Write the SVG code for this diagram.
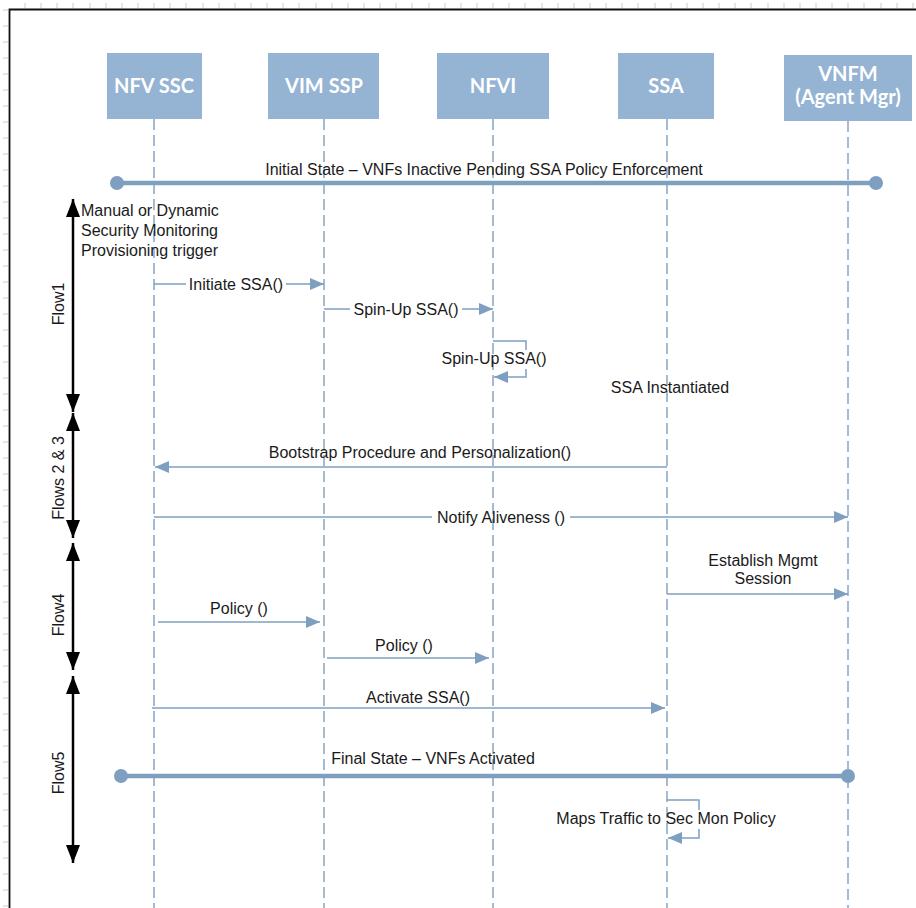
<svg xmlns="http://www.w3.org/2000/svg" width="916" height="908" viewBox="0 0 916 908">
<defs>
<style>
.box{fill:#95B4D4;}
.hdr{font-family:Lato,"Liberation Sans",sans-serif;font-weight:bold;font-size:20px;fill:#ffffff;text-anchor:middle;}
.life{stroke:#86A5C5;stroke-width:1.5;stroke-dasharray:11 5;fill:none;}
.msg{stroke:#7F9FC0;stroke-width:1.5;fill:none;}
.state{stroke:#7F9FC0;stroke-width:4.5;fill:none;}
.dot{fill:#7F9FC0;}
.t{font-family:"Liberation Sans",Arial,sans-serif;font-size:16px;fill:#1a1a1a;}
.c{text-anchor:middle;}
.flow{stroke:#000;stroke-width:2.5;fill:none;}
.tick{stroke:#cccccc;stroke-width:1;}
</style>
<marker id="ah" viewBox="0 0 14 12" refX="14" refY="6" markerWidth="14" markerHeight="12" markerUnits="userSpaceOnUse" orient="auto">
<path d="M0,0 L14,6 L0,12 Z" fill="#7F9FC0"/>
</marker>
<marker id="fa" viewBox="0 0 18 14" refX="18" refY="7" markerWidth="18" markerHeight="14" markerUnits="userSpaceOnUse" orient="auto">
<path d="M0,0 L18,7 L0,14 Z" fill="#000"/>
</marker>
</defs>
<rect width="916" height="908" fill="#ffffff"/>
<g id="ruler">
<path class="tick" d="M25,3V8 M41,3V8 M57,3V8 M73,3V8 M90,3V8 M106,3V8 M122,3V8 M138,3V8 M154,3V8 M170,3V8 M186,3V8 M203,3V8 M219,3V8 M235,3V8 M251,3V8 M267,3V8 M283,3V8 M299,3V8 M316,3V8 M332,3V8 M348,3V8 M364,3V8 M380,3V8 M396,3V8 M412,3V8 M429,3V8 M445,3V8 M461,3V8 M477,3V8 M493,3V8 M509,3V8 M525,3V8 M542,3V8 M558,3V8 M574,3V8 M590,3V8 M606,3V8 M622,3V8 M638,3V8 M655,3V8 M671,3V8 M687,3V8 M703,3V8 M719,3V8 M735,3V8 M751,3V8 M768,3V8 M784,3V8 M800,3V8 M816,3V8 M832,3V8 M848,3V8 M864,3V8 M881,3V8 M897,3V8 M913,3V8"/>
<path class="tick" d="M3,10H8 M3,26H8 M3,42H8 M3,58H8 M3,74H8 M3,90H8 M3,106H8 M3,122H8 M3,138H8 M3,154H8 M3,170H8 M3,186H8 M3,202H8 M3,218H8 M3,234H8 M3,250H8 M3,266H8 M3,282H8 M3,298H8 M3,314H8 M3,330H8 M3,346H8 M3,362H8 M3,378H8 M3,394H8 M3,410H8 M3,426H8 M3,442H8 M3,458H8 M3,474H8 M3,490H8 M3,506H8 M3,522H8 M3,538H8 M3,554H8 M3,570H8 M3,586H8 M3,602H8 M3,618H8 M3,634H8 M3,650H8 M3,666H8 M3,682H8 M3,698H8 M3,714H8 M3,730H8 M3,746H8 M3,762H8 M3,778H8 M3,794H8 M3,810H8 M3,826H8 M3,842H8 M3,858H8 M3,874H8 M3,890H8 M3,906H8"/>
<path d="M9.5,908 V9.5 H916" stroke="#111" stroke-width="1.8" fill="none"/>
</g>
<g id="connectors">
<line class="life" x1="154" y1="119" x2="154" y2="908"/>
<line class="life" x1="324" y1="119" x2="324" y2="908"/>
<line class="life" x1="493" y1="119" x2="493" y2="908"/>
<line class="life" x1="667" y1="119" x2="667" y2="908"/>
<line class="life" x1="848" y1="121" x2="848" y2="908"/>
<line class="state" x1="117" y1="183" x2="876" y2="183"/>
<circle class="dot" cx="117" cy="183" r="7"/>
<circle class="dot" cx="876" cy="183" r="7"/>
<line class="state" x1="121" y1="776" x2="848" y2="776"/>
<circle class="dot" cx="121" cy="776" r="7"/>
<circle class="dot" cx="848" cy="776" r="7"/>
<path class="msg" d="M154,284H186 M286,284H324" marker-end="url(#ah)"/>
<path class="msg" d="M324,309H350 M462,309H493" marker-end="url(#ah)"/>
<path class="msg" d="M493,341H526V350"/>
<path class="msg" d="M526,369V377H494" marker-end="url(#ah)"/>
<path class="msg" d="M667,467H155" marker-end="url(#ah)"/>
<path class="msg" d="M154,517H432 M570,517H848" marker-end="url(#ah)"/>
<path class="msg" d="M667,594H848" marker-end="url(#ah)"/>
<path class="msg" d="M158,622H320" marker-end="url(#ah)"/>
<path class="msg" d="M327,658H489" marker-end="url(#ah)"/>
<path class="msg" d="M152,708H665" marker-end="url(#ah)"/>
<path class="msg" d="M667,800H699V810"/>
<path class="msg" d="M699,829V838H668" marker-end="url(#ah)"/>
<line class="flow" x1="73" y1="230" x2="73" y2="199" marker-end="url(#fa)"/>
<line class="flow" x1="73" y1="230" x2="73" y2="412" marker-end="url(#fa)"/>
<line class="flow" x1="73" y1="460" x2="73" y2="413" marker-end="url(#fa)"/>
<line class="flow" x1="73" y1="460" x2="73" y2="538" marker-end="url(#fa)"/>
<line class="flow" x1="73" y1="600" x2="73" y2="543" marker-end="url(#fa)"/>
<line class="flow" x1="73" y1="600" x2="73" y2="670" marker-end="url(#fa)"/>
<line class="flow" x1="73" y1="760" x2="73" y2="676" marker-end="url(#fa)"/>
<line class="flow" x1="73" y1="760" x2="73" y2="863" marker-end="url(#fa)"/>
</g>
<g id="nfv-ssc"><rect class="box" x="107" y="53" width="95" height="66"/><text class="hdr" x="154" y="93">NFV SSC</text></g>
<g id="vim-ssp"><rect class="box" x="268" y="53" width="111" height="66"/><text class="hdr" x="324" y="93">VIM SSP</text></g>
<g id="nfvi"><rect class="box" x="437" y="53" width="112" height="66"/><text class="hdr" x="493" y="93">NFVI</text></g>
<g id="ssa"><rect class="box" x="618" y="53" width="96" height="66"/><text class="hdr" x="666" y="93">SSA</text></g>
<g id="vnfm"><rect class="box" x="784" y="55" width="128" height="66"/><text class="hdr" x="848" y="81">VNFM</text><text class="hdr" x="848" y="104">(Agent Mgr)</text></g>
<g id="labels">
<text class="t c" x="484" y="175">Initial State – VNFs Inactive Pending SSA Policy Enforcement</text>
<text class="t" x="81" y="216">Manual or Dynamic</text>
<text class="t" x="81" y="236">Security Monitoring</text>
<text class="t" x="81" y="256">Provisioning trigger</text>
<text class="t c" x="236" y="290">Initiate SSA()</text>
<text class="t c" x="406" y="315">Spin-Up SSA()</text>
<text class="t c" x="494" y="364">Spin-Up SSA()</text>
<text class="t c" x="670" y="393">SSA Instantiated</text>
<text class="t c" x="420" y="458">Bootstrap Procedure and Personalization()</text>
<text class="t c" x="501" y="523">Notify Aliveness ()</text>
<text class="t c" x="763" y="566">Establish Mgmt</text>
<text class="t c" x="763" y="584">Session</text>
<text class="t c" x="239" y="614">Policy ()</text>
<text class="t c" x="404" y="651">Policy ()</text>
<text class="t c" x="418" y="703">Activate SSA()</text>
<text class="t c" x="433" y="764">Final State – VNFs Activated</text>
<text class="t c" x="666" y="824">Maps Traffic to Sec Mon Policy</text>
<text class="t c" transform="translate(64,304) rotate(-90)">Flow1</text>
<text class="t c" transform="translate(64,478) rotate(-90)">Flows 2 &amp; 3</text>
<text class="t c" transform="translate(64,615) rotate(-90)">Flow4</text>
<text class="t c" transform="translate(64,773) rotate(-90)">Flow5</text>
</g>
</svg>
